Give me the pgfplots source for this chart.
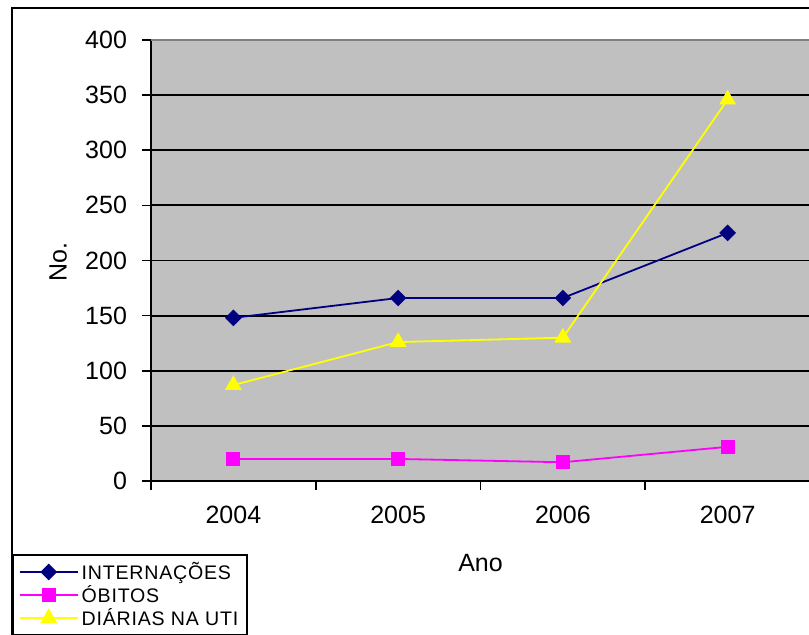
\documentclass[border=0pt]{standalone}
\usepackage{pgfplots}
\pgfplotsset{compat=1.18}
\usepackage{fontspec}
\setmainfont{Liberation Sans}
\newfontfamily\legendfont[LetterSpace=4]{Liberation Sans}
\definecolor{plotgray}{HTML}{C0C0C0}
\definecolor{bordergray}{HTML}{808080}
\definecolor{internacoes}{HTML}{000080}
\definecolor{obitos}{HTML}{FF00FF}
\definecolor{diarias}{HTML}{FFFF00}

\pgfplotstableread{
x internacoes obitos diarias
0 148 20 87
1 166 20 126
2 166 17 130
3 225 31 346
}\dados

\begin{document}
\begin{tikzpicture}
\path[use as bounding box] (0pt,0pt) rectangle (404.5pt,317.5pt);
\clip (0pt,0pt) rectangle (404.5pt,317.5pt);
\fill[white] (0pt,0pt) rectangle (404.5pt,317.5pt);
% outer chart frame
\draw[line width=0.9pt] (6pt,-20pt) rectangle (460pt,313.5pt);
\begin{axis}[
  at={(75.5pt,77pt)}, anchor=south west,
  width=329.5pt, height=220.5pt, scale only axis,
  xmin=-0.5, xmax=3.5, ymin=0, ymax=400,
  axis background/.style={fill=plotgray},
  axis x line*=bottom, axis y line*=left,
  axis line style={black, line width=1pt, -},
  ytick={0,50,...,400},
  ymajorgrids, grid style={black, line width=0.9pt},
  xtick={-0.5,0.5,1.5,2.5,3.5}, xticklabels={},
  extra x ticks={0,1,2,3},
  extra x tick labels={2004,2005,2006,2007},
  extra x tick style={major tick length=0pt, grid=none,
    xticklabel style={yshift=-9pt}},
  tick align=outside, major tick length=4.5pt,
  tick style={black, line width=0.8pt},
  tick pos=left,
  /pgf/number format/assume math mode=true,
  ticklabel style={font=\fontsize{12.5}{14}\selectfont},
  yticklabel style={xshift=-4pt},
  xlabel={Ano}, ylabel={No.},
  every axis x label/.style={at={(axis description cs:0.5,-0.186)}, anchor=center,
    font=\fontsize{12.5}{14}\selectfont},
  every axis y label/.style={at={(axis description cs:-0.141,0.497)}, rotate=90, anchor=center,
    font=\fontsize{12.5}{14}\selectfont},
  legend style={at={(-0.211,-0.1655)}, anchor=north west,
    draw=black, line width=0.9pt, fill=white,
    font=\legendfont\fontsize{9.8}{11}\selectfont,
    inner xsep=3pt, inner ysep=2pt, row sep=-1.5pt,
    nodes={inner sep=1.5pt},
    column 2/.style={nodes={text width=77pt, inner xsep=4.5pt}}},
  legend cell align=left,
  legend image code/.code={\draw[mark repeat=2,mark phase=2] plot coordinates {(0pt,0pt) (14.5pt,0pt) (29pt,0pt)};},
]
\addplot[internacoes, line width=0.9pt, mark=square*, mark size=2.5pt,
  mark options={rotate=45, fill=internacoes, draw=internacoes}]
  table[x=x, y=internacoes] {\dados};
\addlegendentry{INTERNAÇÕES}
\addplot[obitos, line width=0.9pt, mark=square*, mark size=3pt,
  mark options={fill=obitos, draw=obitos}]
  table[x=x, y=obitos] {\dados};
\addlegendentry{ÓBITOS}
\addplot[diarias, line width=0.9pt, mark=triangle*, mark size=4pt,
  mark options={fill=diarias, draw=diarias}]
  table[x=x, y=diarias] {\dados};
\addlegendentry{DIÁRIAS NA UTI}
\draw[bordergray, line width=0.9pt] (rel axis cs:0,1) -- (rel axis cs:1,1);
\end{axis}
\end{tikzpicture}
\end{document}
